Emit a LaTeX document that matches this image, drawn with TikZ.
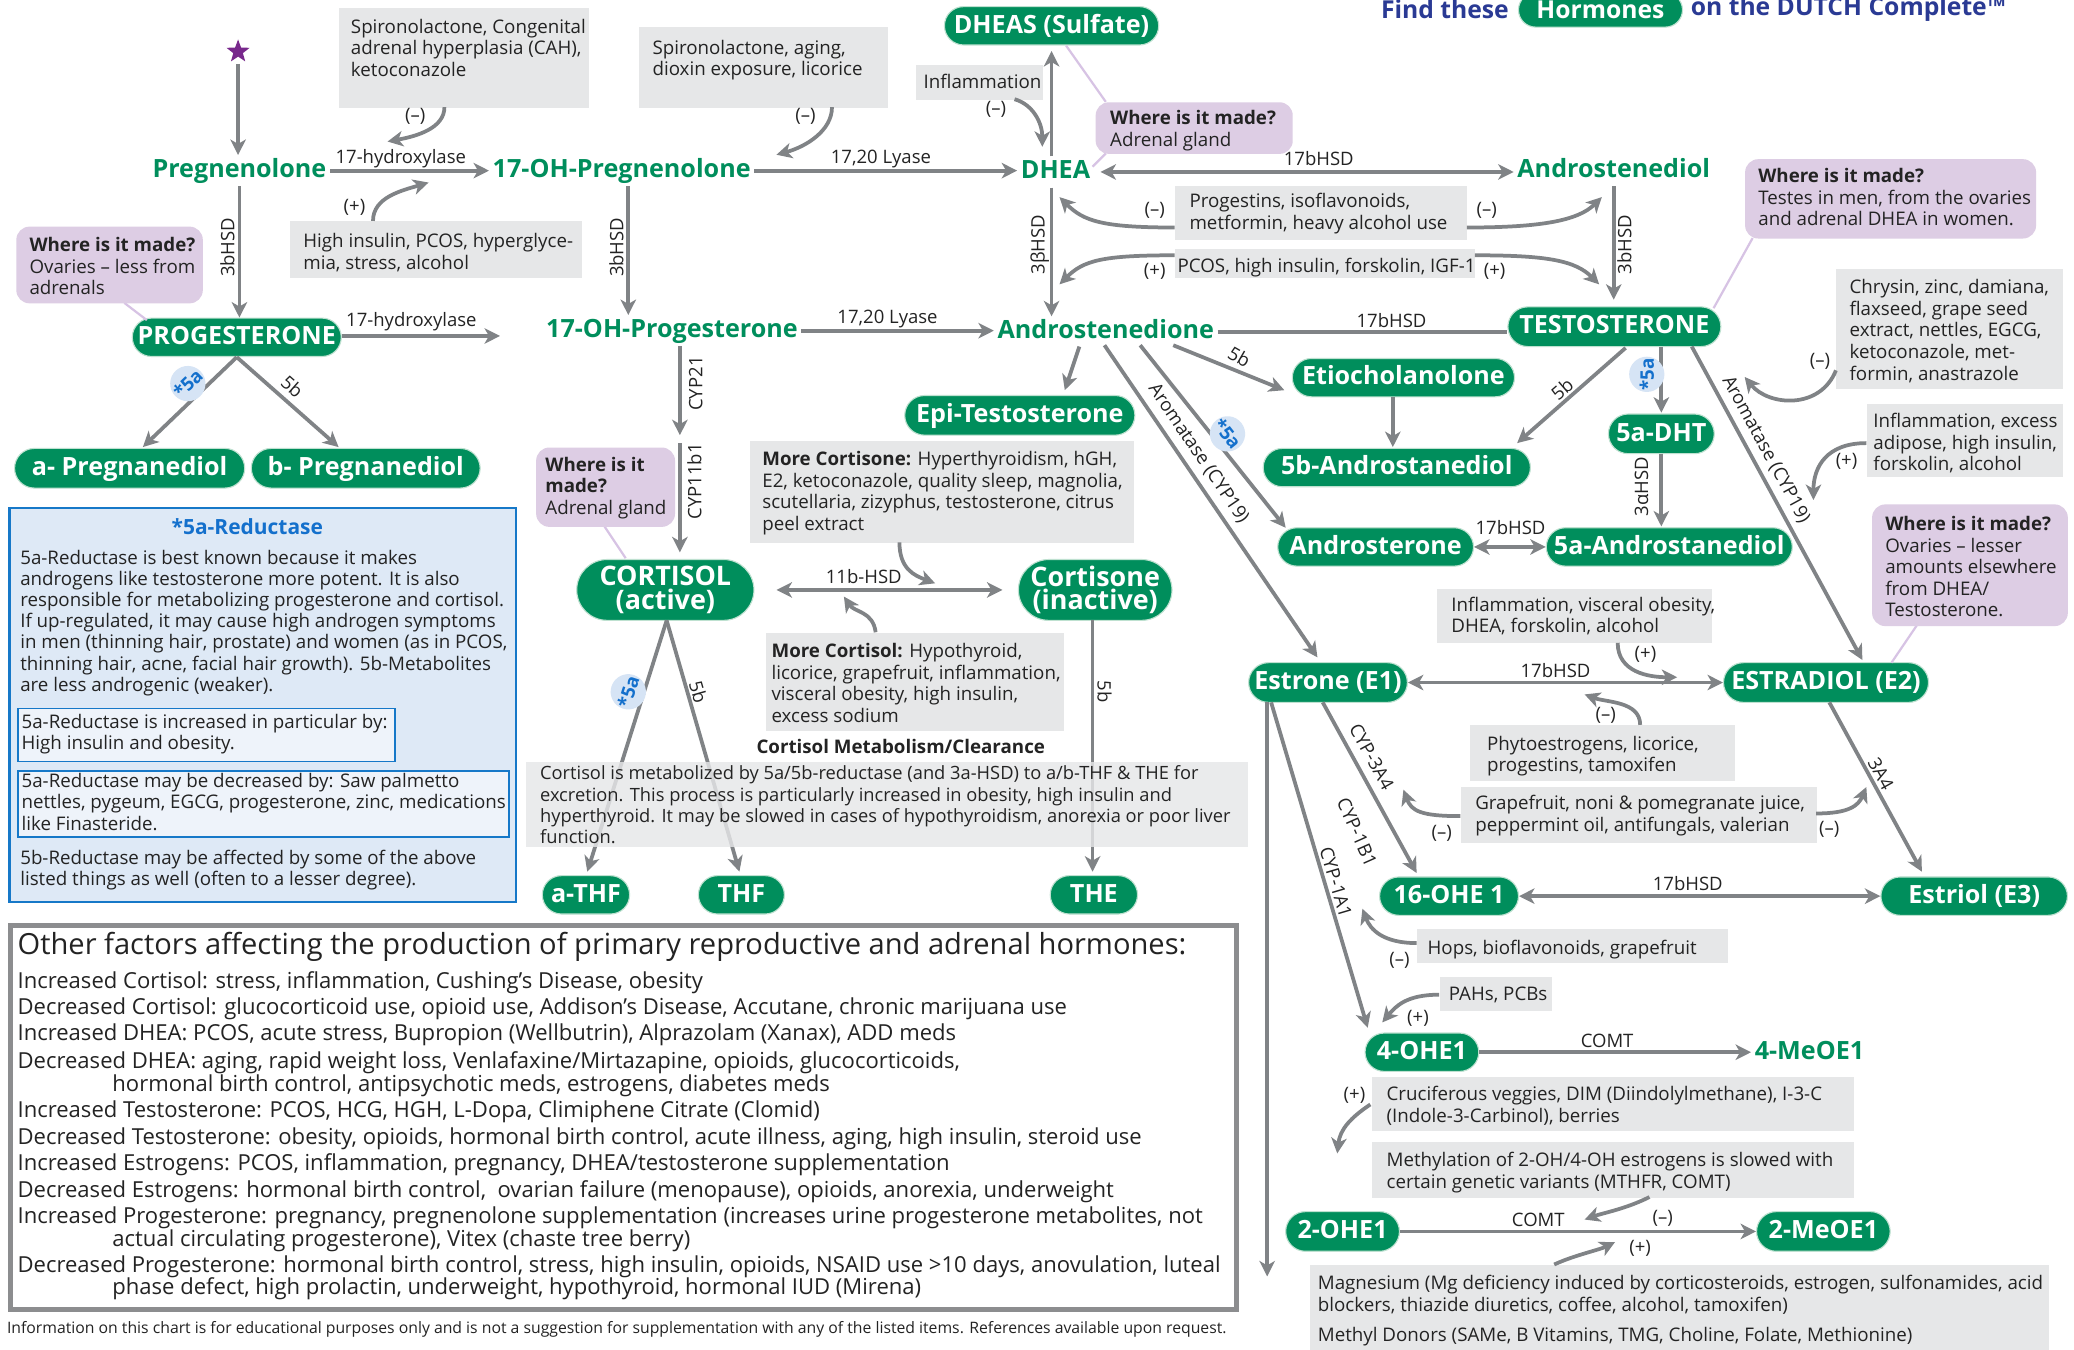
\documentclass[tikz,border=0pt]{standalone}
\usepackage{fontspec}
\setmainfont{Open Sans}
\usetikzlibrary{arrows.meta,shapes.misc,shapes.geometric,calc}
\definecolor{dgreen}{RGB}{0,142,92}
\definecolor{pedge}{RGB}{190,225,208}
\definecolor{arr}{RGB}{128,131,134}
\definecolor{gb}{RGB}{230,231,232}
\definecolor{lpur}{RGB}{221,205,228}
\definecolor{purline}{RGB}{215,195,228}
\definecolor{bblue}{RGB}{22,120,200}
\definecolor{bfill}{RGB}{222,233,246}
\definecolor{bfill2}{RGB}{238,243,250}
\definecolor{badge}{RGB}{214,228,245}
\definecolor{badgetxt}{RGB}{20,112,204}
\definecolor{hblue}{RGB}{42,58,148}
\definecolor{tdark}{RGB}{35,35,35}
\definecolor{frame}{RGB}{140,141,143}
\definecolor{starc}{RGB}{120,40,140}
\begin{document}
\begin{tikzpicture}[x=0.6pt,y=-0.6pt,
  ar/.style={draw=arr,line width=1.7pt,-{Stealth[length=7pt,width=7pt,inset=2pt]}},
  dar/.style={draw=arr,line width=1.7pt,{Stealth[length=7pt,width=7pt,inset=2pt]}-{Stealth[length=7pt,width=7pt,inset=2pt]}},
  ln/.style={draw=arr,line width=1.7pt},
  pl/.style={draw=purline,line width=1pt},
  pillbase/.style={rounded rectangle,fill=dgreen,draw=pedge,line width=0.5pt,text=white,inner sep=0pt,font=\bfseries\fontsize{11.4}{10.8}\selectfont,minimum height=17.4pt},
  pill/.style={pillbase,text height=8.2pt,text depth=1.6pt},
  gtxt/.style={text=dgreen,font=\bfseries\fontsize{11.4}{12}\selectfont,inner sep=1.5pt,text height=8.4pt,text depth=2.4pt},
  gbox/.style={fill=gb,inner sep=0pt,anchor=north west},
  pbox/.style={fill=lpur,inner sep=0pt,anchor=north west,rounded corners=6pt},
  bt/.style={font=\fontsize{8.5}{9.8}\selectfont,align=left,inner sep=0pt,anchor=north west,text=tdark},
  lb/.style={font=\fontsize{8.4}{9.8}\selectfont,inner sep=0pt,text=tdark},
  bdg/.style={circle,fill=badge,text=badgetxt,font=\bfseries\fontsize{8.5}{9}\selectfont,inner sep=0pt,minimum size=16pt},
  bl/.style={font=\fontsize{10}{10.2}\selectfont,align=left,inner sep=0pt,anchor=north west,text=tdark},
]
\useasboundingbox (0,0) rectangle (1568,1020);
\fill[white] (0,0) rectangle (1568,1020);

% ---------- header
\node[font=\bfseries\fontsize{11.2}{12}\selectfont,text=hblue,anchor=east,inner sep=0pt] (hd1) at (1141,7) {Find these};
\node[pillbase,minimum width=74.4pt,minimum height=15.6pt,font=\bfseries\fontsize{11.2}{12}\selectfont] (hd2) at (1210,7.5) {Hormones};
\node[font=\bfseries\fontsize{11.2}{12}\selectfont,text=hblue,anchor=west,inner sep=0pt] (hd3) at (1278,7) {on the DUTCH Complete™};

% ---------- star
\node[star,star points=5,star point ratio=2.4,fill=starc,inner sep=0pt,minimum size=11pt] (strt) at (180,39) {};

% ---------- green plain labels
\node[gtxt] (preg) at (181,129) {Pregnenolone};
\node[gtxt] (ohpreg) at (470,129) {17-OH-Pregnenolone};
\node[gtxt] (dhea) at (798,130) {DHEA};
\node[gtxt] (adiol) at (1220,129) {Androstenediol};
\node[gtxt] (ohprog) at (508,250) {17-OH-Progesterone};
\node[gtxt] (adione) at (836,251) {Androstenedione};
\node[gtxt] (meo4) at (1368,796) {4-MeOE1};

% ---------- pills
\node[pill,minimum width=97.2pt] (dheas) at (795,19.5) {DHEAS (Sulfate)};
\node[pill,minimum width=94.8pt] (prog) at (179,255) {PROGESTERONE};
\node[pill,minimum width=104.4pt,minimum height=18pt] (apreg) at (98,354) {a- Pregnanediol};
\node[pill,minimum width=103.8pt,minimum height=18pt] (bpreg) at (276.5,354) {b- Pregnanediol};
\node[pill,minimum width=96.6pt,minimum height=18pt] (testo) at (1220.5,247) {TESTOSTERONE};
\node[pill,minimum width=104.4pt,minimum height=18pt] (epi) at (771,314) {Epi-Testosterone};
\node[pill,minimum width=100.8pt] (etio) at (1061,285.5) {Etiocholanolone};
\node[pill,minimum width=121.2pt] (bdiol) at (1056,353.5) {5b-Androstanediol};
\node[pill,minimum width=48pt,minimum height=18pt] (dht) at (1256,328) {5a-DHT};
\node[pill,minimum width=88.8pt] (andro) at (1040,413.5) {Androsterone};
\node[pill,minimum width=111.6pt] (adiolf) at (1262,413.5) {5a-Androstanediol};
\node[pillbase,minimum width=80.4pt,minimum height=27.6pt,align=center,font=\bfseries\fontsize{12.2}{10.8}\selectfont] (cortisol) at (503,446) {CORTISOL\\(active)};
\node[pillbase,minimum width=69.6pt,minimum height=27.6pt,align=center,font=\bfseries\fontsize{12.2}{10.8}\selectfont] (cortisone) at (828,446) {Cortisone\\(inactive)};
\node[pill,minimum width=72pt,minimum height=18pt] (e1) at (1004,516) {Estrone (E1)};
\node[pill,minimum width=93pt,minimum height=18pt] (e2) at (1380.5,516) {ESTRADIOL (E2)};
\node[pill,minimum width=39.6pt] (athf) at (443,676.5) {a-THF};
\node[pill,minimum width=39pt] (thf) at (560.5,676.5) {THF};
\node[pill,minimum width=39.6pt] (the) at (827,676.5) {THE};
\node[pill,minimum width=63pt] (ohe16) at (1095.5,677.5) {16-OHE 1};
\node[pill,minimum width=84.6pt] (e3) at (1492.5,677.5) {Estriol (E3)};
\node[pill,minimum width=51.6pt] (ohe4) at (1075,795.5) {4-OHE1};
\node[pill,minimum width=51.6pt,minimum height=18pt] (ohe2) at (1015,931) {2-OHE1};
\node[pill,minimum width=60.6pt,minimum height=18pt] (meo2) at (1378.5,931) {2-MeOE1};

% ---------- purple connector lines
\draw[pl] ($(dheas)+(11,15)$) -- (836,77) coordinate (p2a);
\draw[pl] (836,116) coordinate (p2b) -- ($(dhea)+(28,-4)$);

% ---------- grey boxes
\node[gbox,minimum width=113.4pt,minimum height=45pt] (bA) at (256,6) {};
\node[bt] (tA) at (265,14) {Spironolactone, Congenital\\adrenal hyperplasia (CAH),\\ketoconazole};
\node[gbox,minimum width=112.8pt,minimum height=36.6pt] (bB) at (483,20) {};
\node[bt] (tB) at (493,30) {Spironolactone, aging,\\dioxin exposure, licorice};
\node[gbox,minimum width=57.6pt,minimum height=15.6pt] (bIn) at (692,49) {};
\node[bt] (tIn) at (698,55.5) {Inflammation};
\node[gbox,minimum width=132.6pt,minimum height=25.8pt] (bHI) at (219,167) {};
\node[bt] (tHI) at (229,176) {High insulin, PCOS, hyperglyce-\\mia, stress, alcohol};
\node[gbox,minimum width=132.6pt,minimum height=24.6pt] (bPr) at (888,140) {};
\node[bt] (tPr) at (899,146) {Progestins, isoflavonoids,\\metformin, heavy alcohol use};
\node[gbox,minimum width=136.2pt,minimum height=13.2pt] (bPC) at (888,188) {};
\node[bt] (tPC) at (890,194.5) {PCOS, high insulin, forskolin, IGF-1};
\node[gbox,minimum width=102.6pt,minimum height=54.6pt] (bCh) at (1388,203) {};
\node[bt] (tCh) at (1398,211) {Chrysin, zinc, damiana,\\flaxseed, grape seed\\extract, nettles, EGCG,\\ketoconazole, met-\\formin, anastrazole};
\node[gbox,minimum width=88.8pt,minimum height=33pt] (bIE) at (1411,305) {};
\node[bt] (tIE) at (1416,312) {Inflammation, excess\\adipose, high insulin,\\forskolin, alcohol};
\node[gbox,minimum width=174pt,minimum height=46.2pt] (bMCn) at (567,333) {};
\node[bt] (tMCn) at (576,341) {\textbf{More Cortisone:} Hyperthyroidism, hGH,\\E2, ketoconazole, quality sleep, magnolia,\\scutellaria, zizyphus, testosterone, citrus\\peel extract};
\node[gbox,minimum width=135pt,minimum height=44.4pt] (bMCl) at (579,478) {};
\node[bt] (tMCl) at (583,486) {\textbf{More Cortisol:} Hypothyroid,\\licorice, grapefruit, inflammation,\\visceral obesity, high insulin,\\excess sodium};
\node[gbox,minimum width=124.8pt,minimum height=24.6pt] (bIV) at (1086,445) {};
\node[bt] (tIV) at (1097,451) {Inflammation, visceral obesity,\\DHEA, forskolin, alcohol};
\node[gbox,minimum width=120pt,minimum height=25.2pt] (bPh) at (1111,548) {};
\node[bt] (tPh) at (1124,556) {Phytoestrogens, licorice,\\progestins, tamoxifen};
\node[gbox,minimum width=161.4pt,minimum height=25.2pt] (bGr) at (1104,595) {};
\node[bt] (tGr) at (1115,601) {Grapefruit, noni \& pomegranate juice,\\peppermint oil, antifungals, valerian};
\node[gbox,minimum width=141pt,minimum height=15.6pt] (bHo) at (1071,702) {};
\node[bt] (tHo) at (1079,710.5) {Hops, bioflavonoids, grapefruit};
\node[gbox,minimum width=51pt,minimum height=15.6pt] (bPA) at (1088,738) {};
\node[bt] (tPA) at (1095,745.5) {PAHs, PCBs};
\node[gbox,minimum width=218.4pt,minimum height=24.6pt] (bCr) at (1037,814) {};
\node[bt] (tCr) at (1048,821) {Cruciferous veggies, DIM (Diindolylmethane), I-3-C\\(Indole-3-Carbinol), berries};
\node[gbox,minimum width=218.4pt,minimum height=25.2pt] (bMe) at (1037,863) {};
\node[bt] (tMe) at (1048,871) {Methylation of 2-OH/4-OH estrogens is slowed with\\certain genetic variants (MTHFR, COMT)};
\node[gbox,minimum width=335.4pt,minimum height=40pt] (bMg) at (990,956) {};
\node[bt] (tMg) at (996,964) {Magnesium (Mg deficiency induced by corticosteroids, estrogen, sulfonamides, acid\\blockers, thiazide diuretics, coffee, alcohol, tamoxifen)};
\node[bt] (tMD) at (996,1003) {Methyl Donors (SAMe, B Vitamins, TMG, Choline, Folate, Methionine)};

% ---------- purple boxes
\draw[pl] ($(prog)+(-68,-13)$) -- (94,229) coordinate (p1c);
\draw[pl] ($(testo)+(75,-14)$) -- (1325,180) coordinate (p3c);
\draw[pl] ($(cortisol)+(-30,-24)$) -- (457,398) coordinate (p4c);
\draw[pl] ($(e2)+(49.5,-15)$) -- (1449,473) coordinate (p5c);
\node[pbox,minimum width=84.6pt,minimum height=34.8pt] (p1) at (12,171) {};
\node[bt] (tp1) at (22,179) {\textbf{Where is it made?}\\Ovaries – less from\\adrenals};
\node[pbox,minimum width=89.4pt,minimum height=23.4pt] (p2) at (828,77) {};
\node[bt] (tp2) at (839,83) {\textbf{Where is it made?}\\Adrenal gland};
\node[pbox,minimum width=132pt,minimum height=36pt] (p3) at (1319,120) {};
\node[bt] (tp3) at (1329,127) {\textbf{Where is it made?}\\Testes in men, from the ovaries\\and adrenal DHEA in women.};
\node[pbox,minimum width=63pt,minimum height=36pt] (p4) at (405,338) {};
\node[bt] (tp4) at (412,345) {\textbf{Where is it}\\\textbf{made?}\\Adrenal gland};
\node[pbox,minimum width=88.8pt,minimum height=55.2pt] (p5) at (1415,381) {};
\node[bt] (tp5) at (1425,390) {\textbf{Where is it made?}\\Ovaries – lesser\\amounts elsewhere\\from DHEA/\\Testosterone.};

% ---------- main arrows
\draw[ar,shorten <=3pt] (strt) -- (strt |- preg.north);
\draw[ar] (preg.east) -- (ohpreg.west);
\draw[ar] (ohpreg.east) -- (ohpreg.east -| dhea.west);
\draw[dar,shorten <=3pt] (dhea.east) -- (dhea.east -| adiol.west);
\draw[ar,shorten >=2.5pt] (dhea.north -| dheas.south) -- (dheas.south);
\draw[ar] (dhea.south -| dheas.south) -- (adione.north -| dheas.south);
\draw[ar,shorten >=3pt] (adiol.south) -- (adiol.south |- testo.north);
\draw[ar] (preg.south) -- (preg.south |- prog.north);
\draw[ar] ([xshift=3pt]ohpreg.south) -- ([xshift=3pt]ohpreg.south |- ohprog.north);
\coordinate (h17e) at (378,254);
\draw[ar] (prog.east |- h17e) -- (h17e);
\draw[ar] (ohprog.east) -- (ohprog.east -| adione.west);
\draw[ln] (adione.east) -- (adione.east -| testo.west);
\coordinate (cypm) at (514,332);
\draw[ar] (ohprog.south -| cypm) -- ([yshift=1.8pt]cypm);
\draw[ar,shorten >=3pt] ([yshift=-1.8pt]cypm) -- (cortisol.north -| cypm);
\draw[ar] ($(adione)+(-20,11)$) -- ($(epi)+(34,-19)$);
\draw[ar] ($(adione)+(51,10)$) -- ($(etio)+(-90,9.5)$);
\draw[ar] ($(adione)+(26,10)$) -- ($(andro)+(-68,-14.5)$);
\draw[ar] ($(adione)+(-1,10)$) -- ($(e1)+(-8,-19)$);
\draw[ar] ($(testo)+(8.5,16)$) -- ($(bdiol)+(91,-18.5)$);
\draw[ar] ($(testo)+(35.5,15)$) -- ($(dht)+(0,-16)$);
\draw[ar] ($(testo)+(58.5,15)$) -- ($(e2)+(27.5,-17)$);
\draw[ar] ($(etio)+(-8,14.5)$) -- ($(bdiol)+(-3,-15.5)$);
\draw[ar] ($(dht)+(0,15)$) -- ($(adiolf)+(-6,-15.5)$);
\draw[dar] (andro.east) -- (adiolf.west);
\draw[ar] ($(prog)+(0,15)$) -- ($(apreg)+(10,-16)$);
\draw[ar] ($(prog)+(0,15)$) -- ($(bpreg)+(-20.5,-16)$);
\draw[dar,shorten <=10pt,shorten >=7pt] (cortisol.east) -- (cortisone.west);
\draw[ar] ($(cortisol)+(1,23)$) -- ($(athf)+(1,-17.5)$);
\draw[ar] ($(cortisol)+(1,23)$) -- ($(thf)+(-1.5,-17.5)$);
\draw[ar] ($(cortisone)+(-2,23)$) -- ($(the)+(-1,-17.5)$);
\draw[dar] (e1.east) -- (e2.west);
\draw[ar] ($(e1)+(-4,15)$) -- ($(ohe16)+(-24.5,-17.5)$);
\draw[ar] ($(e1)+(-43,15)$) -- ($(ohe4)+(-41,-18.5)$);
\coordinate (e1dn) at (958,965);
\draw[ar] ($(e1)+(-46,15)$) -- (e1dn);
\draw[ar] ($(e2)+(2.5,15)$) -- ($(e3)+(-39.5,-18.5)$);
\draw[dar] (ohe16.east) -- (e3.west);
\draw[ar] (ohe4.east) -- (ohe4.east -| meo4.west);
\draw[ar] (ohe2.east) -- (meo2.west);

% ---------- cortisol metabolism box (over arrows)
\node[gbox,minimum width=327.6pt,minimum height=38.4pt,fill opacity=0.82] (bCM) at (397,576) {};
\node[bt,font=\fontsize{8.3}{9.7}\selectfont] (tCM) at (408,578.5) {Cortisol is metabolized by 5a/5b-reductase (and 3a-HSD) to a/b-THF \& THE for\\excretion. This process is particularly increased in obesity, high insulin and\\hyperthyroid. It may be slowed in cases of hypothyroidism, anorexia or poor liver\\function.};
\node[font=\bfseries\fontsize{8.5}{10}\selectfont,text=tdark,inner sep=0pt] (cmt) at (681,564) {Cortisol Metabolism/Clearance};

% ---------- feedback arrows
\coordinate (f1e) at (293,107);
\draw[ar] ($(bA.north west)+(80,75)$) .. controls +(0,16) and +(22,-4) .. (f1e);
\coordinate (f2e) at (587,117);
\draw[ar] ($(bB.north west)+(146,61)$) .. controls +(0,18) and +(22,-6) .. (f2e);
\coordinate (f3e) at (788,111);
\draw[ar] ($(bIn.north west)+(75,26)$) .. controls +(14,4) and +(0,-18) .. (f3e);
\coordinate (f4e) at (324,138);
\draw[ar] ($(bHI.north west)+(63,0)$) .. controls +(0,-18) and +(-20,6) .. (f4e);
\coordinate (f5e) at (801,149);
\draw[ar] ($(bPr.north west)+(0,32)$) .. controls +(-55,0) and +(18,18) .. (f5e);
\coordinate (f6e) at (1211,149);
\draw[ar] ($(bPr.north west)+(221,32)$) .. controls +(55,0) and +(-18,18) .. (f6e);
\coordinate (f7e) at (801,215);
\draw[ar] ($(bPC.north west)+(0,5)$) .. controls +(-55,0) and +(18,-18) .. (f7e);
\coordinate (f8e) at (1209,215);
\draw[ar] ($(bPC.north west)+(227,5)$) .. controls +(55,0) and +(-18,-18) .. (f8e);
\coordinate (f9e) at (1319,285);
\draw[ar] ($(bCh.north west)+(0,77)$) .. controls +(-12,30) and +(18,22) .. (f9e);
\coordinate (f10e) at (1371,378);
\draw[ar] ($(bIE.north west)+(0,30)$) .. controls +(-30,0) and +(0,-25) .. (f10e);
\coordinate (f11e) at (1268,512);
\draw[ar] ($(bIV.north west)+(137,41)$) .. controls +(0,22) and +(-22,0) .. (f11e);
\coordinate (f12e) at (1198,525);
\draw[ar] ($(bPh.north west)+(129,0)$) .. controls +(0,-18) and +(16,6) .. (f12e);
\coordinate (f13e) at (1061,597);
\draw[ar] ($(bGr.north west)+(0,22)$) .. controls +(-30,0) and +(6,16) .. (f13e);
\coordinate (f14e) at (1411,595);
\draw[ar] ($(bGr.north west)+(269,20)$) .. controls +(25,0) and +(-6,14) .. (f14e);
\coordinate (f15e) at (1030,687);
\draw[ar] ($(bHo.north west)+(0,11)$) .. controls +(-25,0) and +(6,16) .. (f15e);
\coordinate (f16e) at (1045,773);
\draw[ar] ($(bPA.north west)+(0,14)$) .. controls +(-25,0) and +(10,-12) .. (f16e);
\coordinate (f17e) at (1011,872);
\draw[ar] ($(bCr.north west)+(-1,21)$) .. controls +(-15,10) and +(2,-18) .. (f17e);
\coordinate (f18e) at (1198,922);
\draw[ar] ($(bMe.north west)+(210,42)$) .. controls +(-18,9) and +(14,-5) .. (f18e);
\coordinate (f19e) at (1221,939);
\draw[ar] ($(bMg.north west)+(185,0)$) .. controls +(15,-7) and +(-12,6) .. (f19e);
\coordinate (f20e) at (707,441);
\draw[ar] ($(bMCn.north west)+(113,77)$) .. controls +(0,20) and +(-16,-6) .. (f20e);
\coordinate (f21e) at (638,451);
\draw[ar] ($(bMCl.north west)+(83,0)$) .. controls +(-2,-16) and +(8,12) .. (f21e);

% ---------- plus / minus labels
\node[lb] (m1) at (314,88) {(–)};
\node[lb] (m2) at (609,88) {(–)};
\node[lb] (m3) at (753,83) {(–)};
\node[lb] (m4) at (268,157) {(+)};
\node[lb] (m5) at (873,159) {(–)};
\node[lb] (m6) at (1124,159) {(–)};
\node[lb] (m7) at (873,205) {(+)};
\node[lb] (m8) at (1130,205) {(+)};
\node[lb] (m9) at (1376,273) {(–)};
\node[lb] (m10) at (1396,349) {(+)};
\node[lb] (m11) at (1244,495) {(+)};
\node[lb] (m12) at (1214,541) {(–)};
\node[lb] (m13) at (1090,630) {(–)};
\node[lb] (m14) at (1383,627) {(–)};
\node[lb] (m15) at (1058,726) {(–)};
\node[lb] (m16) at (1072,770) {(+)};
\node[lb] (m17) at (1024,828) {(+)};
\node[lb] (m18) at (1257,921) {(–)};
\node[lb] (m19) at (1240,944) {(+)};

% ---------- enzyme labels
\node[lb] (l1) at (303,120) {17-hydroxylase};
\node[lb] (l2) at (666,120) {17,20 Lyase};
\node[lb] (l3) at (997,120) {17bHSD};
\node[lb,rotate=90] (l4) at (172,187) {3bHSD};
\node[lb,rotate=90] (l5) at (466,187) {3bHSD};
\node[lb,rotate=90] (l6) at (786,185) {3βHSD};
\node[lb,rotate=90] (l7) at (1228,185) {3bHSD};
\node[lb] (l8) at (311,243) {17-hydroxylase};
\node[lb] (l9) at (671,241) {17,20 Lyase};
\node[lb] (l10) at (1052,242) {17bHSD};
\node[lb,rotate=90] (l11) at (526,290) {CYP21};
\node[lb,rotate=90] (l12) at (525,364) {CYP11b1};
\node[lb] (l13) at (653,436) {11b-HSD};
\node[lb] (l14) at (1142,399) {17bHSD};
\node[lb,rotate=90] (l15) at (1241,368) {3αHSD};
\node[lb] (l16) at (1176,507) {17bHSD};
\node[lb] (l17) at (1276,668) {17bHSD};
\node[lb] (l18) at (1215,787) {COMT};
\node[lb] (l19) at (1163,922) {COMT};
\node[lb,rotate=-74] (l20) at (528,523) {5b};
\node[lb,rotate=-90] (l21) at (835,523) {5b};
\node[lb,rotate=-55.8] (l22) at (906,343) {Aromatase (CYP19)};
\node[lb,rotate=-61.4] (l23) at (1335,340) {Aromatase (CYP19)};
\node[lb,rotate=-61.2] (l24) at (1037,572) {CYP-3A4};
\node[lb,rotate=-66] (l25) at (1026,629) {CYP-1B1};
\node[lb,rotate=-73.5] (l26) at (1010,667) {CYP-1A1};
\node[lb,rotate=-61.3] (l27) at (1422,585) {3A4};
\node[lb,rotate=-30] (l28) at (937,270) {5b};
\node[lb,rotate=41] (l29) at (1181,294) {5b};
\node[lb,rotate=-41.4] (l30) at (221,292) {5b};

% ---------- badges
\node[bdg,rotate=44] (g1) at (142,290) {*5a};
\node[bdg,rotate=-51.6] (g2) at (928,328) {*5a};
\node[bdg,rotate=90] (g3) at (1245,283) {*5a};
\node[bdg,rotate=72] (g4) at (475,523) {*5a};

% ---------- 5a-reductase box
\node[draw=bblue,line width=1.2pt,fill=bfill,inner sep=0pt,anchor=north west,minimum width=229.8pt,minimum height=178.8pt] (bbx) at (6,383) {};
\node[draw=bblue,line width=0.8pt,fill=bfill2,inner sep=0pt,anchor=north west,minimum width=171pt,minimum height=24pt] (bi1) at (13,535) {};
\node[draw=bblue,line width=0.8pt,fill=bfill2,inner sep=0pt,anchor=north west,minimum width=222.6pt,minimum height=30pt] (bi2) at (13,582) {};
\node[font=\bfseries\fontsize{9.5}{10}\selectfont,text=badgetxt,inner sep=0pt] (btl) at (187,398) {*5a-Reductase};
\node[bt,font=\fontsize{8.5}{9.6}\selectfont] (bp1) at (15,415.5) {5a-Reductase is best known because it makes\\androgens like testosterone more potent. It is also\\responsible for metabolizing progesterone and cortisol.\\If up-regulated, it may cause high androgen symptoms\\in men (thinning hair, prostate) and women (as in PCOS,\\thinning hair, acne, facial hair growth). 5b-Metabolites\\are less androgenic (weaker).};
\node[bt,font=\fontsize{8.5}{9.6}\selectfont] (bp2) at (16,539.5) {5a-Reductase is increased in particular by:\\High insulin and obesity.};
\node[bt,font=\fontsize{8.5}{9.6}\selectfont] (bp3) at (16,584.5) {5a-Reductase may be decreased by: Saw palmetto\\nettles, pygeum, EGCG, progesterone, zinc, medications\\like Finasteride.};
\node[bt,font=\fontsize{8.5}{9.6}\selectfont] (bp4) at (15,642.5) {5b-Reductase may be affected by some of the above\\listed things as well (often to a lesser degree).};

% ---------- bottom box
\node[draw=frame,line width=2.2pt,fill=white,anchor=north west,inner sep=0pt,minimum width=556.2pt,minimum height=174pt] (bot) at (6,698) {};
\node[font=\fontsize{13.2}{14}\selectfont,text=tdark,anchor=west,inner sep=0pt] (o0) at (13,716) {Other factors affecting the production of primary reproductive and adrenal hormones:};
\node[bl] (o1) at (13,734) {Increased Cortisol: stress, inflammation, Cushing’s Disease, obesity};
\node[bl] (o2) at (13,754) {Decreased Cortisol: glucocorticoid use, opioid use, Addison’s Disease, Accutane, chronic marijuana use};
\node[bl] (o3) at (13,774) {Increased DHEA: PCOS, acute stress, Bupropion (Wellbutrin), Alprazolam (Xanax), ADD meds};
\node[bl] (o4) at (13,795) {Decreased DHEA: aging, rapid weight loss, Venlafaxine/Mirtazapine, opioids, glucocorticoids,\\\hspace*{43pt}hormonal birth control, antipsychotic meds, estrogens, diabetes meds};
\node[bl] (o5) at (13,832) {Increased Testosterone: PCOS, HCG, HGH, L-Dopa, Climiphene Citrate (Clomid)};
\node[bl] (o6) at (13,852) {Decreased Testosterone: obesity, opioids, hormonal birth control, acute illness, aging, high insulin, steroid use};
\node[bl] (o7) at (13,872) {Increased Estrogens: PCOS, inflammation, pregnancy, DHEA/testosterone supplementation};
\node[bl] (o8) at (13,892) {Decreased Estrogens: hormonal birth control,\ \ ovarian failure (menopause), opioids, anorexia, underweight};
\node[bl] (o9) at (13,912) {Increased Progesterone: pregnancy, pregnenolone supplementation (increases urine progesterone metabolites, not\\\hspace*{43pt}actual circulating progesterone), Vitex (chaste tree berry)};
\node[bl] (o10) at (13,949) {Decreased Progesterone: hormonal birth control, stress, high insulin, opioids, NSAID use >10 days, anovulation, luteal\\\hspace*{43pt}phase defect, high prolactin, underweight, hypothyroid, hormonal IUD (Mirena)};
\node[font=\fontsize{7.15}{8}\selectfont,text=tdark,anchor=west,inner sep=0pt] (foot) at (5,1005) {Information on this chart is for educational purposes only and is not a suggestion for supplementation with any of the listed items. References available upon request.};
\end{tikzpicture}
\end{document}
